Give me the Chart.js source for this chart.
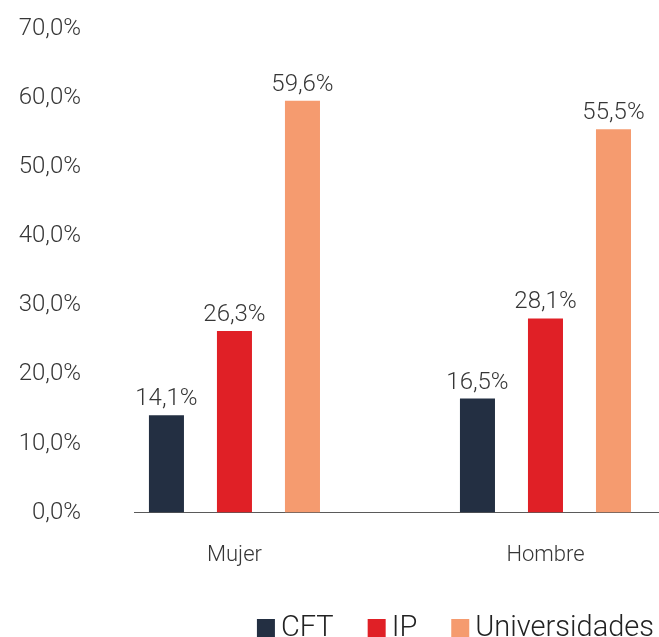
<!DOCTYPE html>
<html><head><meta charset="utf-8">
<script src="https://cdn.jsdelivr.net/npm/chart.js@4/dist/chart.umd.min.js"></script>
<style>html,body{margin:0;padding:0;background:#fff;overflow:hidden}#wrap{width:659px;height:637px;position:relative}</style>
</head><body><div id="wrap"><canvas id="c" width="659" height="637"></canvas></div>
<script>
const categories = ['Mujer', 'Hombre'];
const seriesNames = ['CFT', 'IP', 'Universidades'];
const cftValues = [14.1, 16.5];
const ipValues = [26.3, 28.1];
const univValues = [59.6, 55.5];
const yTicks = [0, 10, 20, 30, 40, 50, 60, 70];
const seriesColors = ['#232f42', '#e02026', '#f59b6f'];

const FONT = 'Roboto';
const TEXT = '#363636';
const fmt = v => v.toFixed(1).replace('.', ',') + '%';

const allSeries = [cftValues, ipValues, univValues];
const datasets = allSeries.map((vals, s) => ({
  label: seriesNames[s],
  data: vals.map((v, i) => ({ x: i, y: v })),
  backgroundColor: seriesColors[s],
  borderWidth: 0,
  categoryPercentage: 0.656,
  barPercentage: 0.515
}));

const valueLabels = {
  id: 'valueLabels',
  afterDatasetsDraw(chart) {
    const ctx = chart.ctx;
    ctx.save();
    ctx.font = `300 24px ${FONT}`;
    ctx.fillStyle = TEXT;
    ctx.textAlign = 'center';
    ctx.textBaseline = 'alphabetic';
    chart.data.datasets.forEach((ds, di) => {
      chart.getDatasetMeta(di).data.forEach((el, i) => {
        ctx.fillText(fmt(ds.data[i].y), el.x, el.y - 10);
      });
    });
    ctx.restore();
  }
};

const customLegend = {
  id: 'customLegend',
  afterDraw(chart) {
    const ctx = chart.ctx;
    ctx.save();
    ctx.font = `300 29px ${FONT}`;
    ctx.textBaseline = 'alphabetic';
    ctx.textAlign = 'left';
    const box = 18, gapBT = 6, gapItems = 34;
    const items = chart.data.datasets.map(d => ({ text: d.label, color: d.backgroundColor, w: ctx.measureText(d.label).width }));
    const total = items.reduce((s, it) => s + box + gapBT + it.w, 0) + gapItems * (items.length - 1);
    let x = 654 - total;
    const base = 636;
    items.forEach(it => {
      ctx.fillStyle = it.color;
      ctx.fillRect(x, base - 17, box, box);
      ctx.fillStyle = '#222';
      ctx.fillText(it.text, x + box + gapBT, base);
      x += box + gapBT + it.w + gapItems;
    });
    ctx.restore();
  }
};

new Chart(document.getElementById('c'), {
  type: 'bar',
  data: { datasets },
  plugins: [valueLabels, customLegend],
  options: {
    responsive: false,
    devicePixelRatio: 1,
    animation: false,
    layout: { padding: { top: 29, right: 0, bottom: 38, left: 0 } },
    plugins: { legend: { display: false }, tooltip: { enabled: false } },
    scales: {
      x: {
        type: 'linear',
        offset: false,
        min: -0.323,
        max: 1.365,
        grid: { display: false, drawTicks: false },
        border: { display: true, color: '#5a5a5a', width: 1 },
        ticks: {
          stepSize: 1,
          includeBounds: false,
          maxRotation: 0,
          autoSkip: false,
          padding: 30,
          color: TEXT,
          font: { family: FONT, size: 22, weight: '300' },
          callback: v => categories[v] !== undefined && Number.isInteger(v) ? categories[v] : ''
        }
      },
      y: {
        min: yTicks[0],
        max: yTicks[yTicks.length - 1],
        grid: { display: false, drawTicks: false },
        border: { display: false },
        afterBuildTicks: scale => { scale.ticks = yTicks.map(v => ({ value: v })); },
        afterFit: scale => { scale.width = 134; scale.paddingTop = 0; scale.paddingBottom = 0; },
        ticks: {
          padding: 53,
          color: TEXT,
          font: { family: FONT, size: 24, weight: '300' },
          callback: v => fmt(v)
        }
      }
    }
  }
});
</script>
</body></html>
